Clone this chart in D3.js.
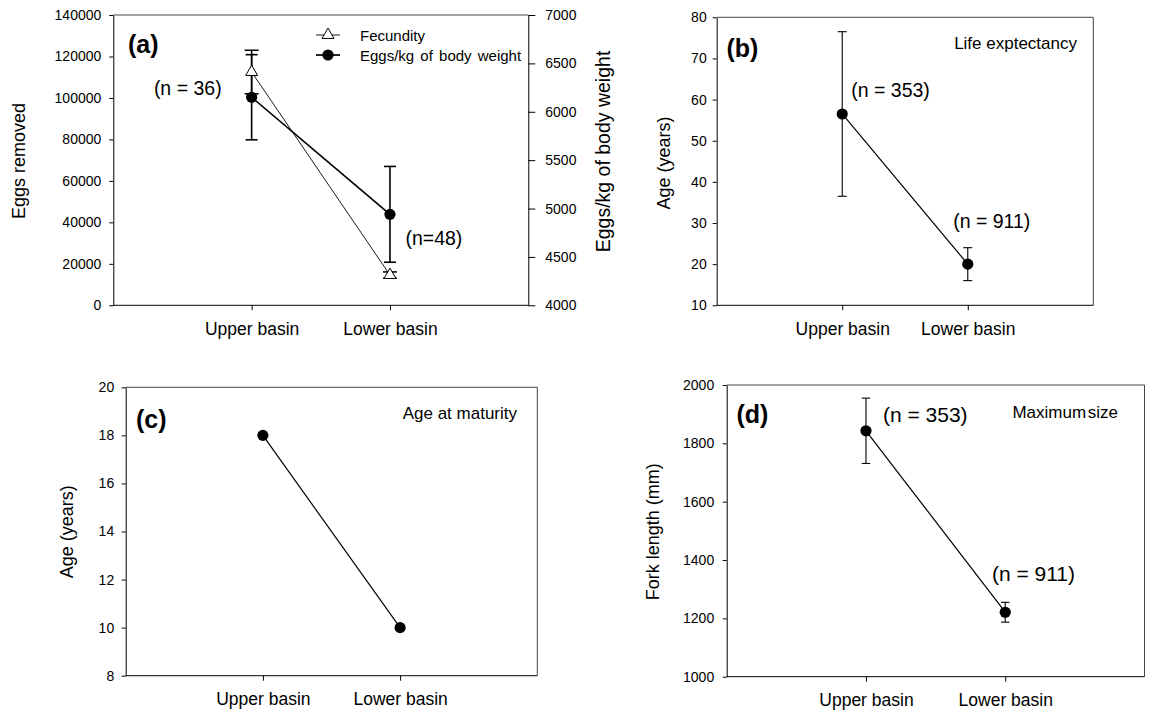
<!DOCTYPE html>
<html>
<head>
<meta charset="utf-8">
<script src="https://cdn.jsdelivr.net/npm/d3@7"></script>
<style>
  html, body { margin: 0; padding: 0; background: #fff; }
  svg { display: block; font-family: "Liberation Sans", Arial, sans-serif; }
  .tick text { font-size: 14px; fill: #000; }
  .xax .tick text { font-size: 17.5px; }
</style>
</head>
<body>
<svg id="chart" width="1154" height="718"></svg>
<script>
// ---------------- data ----------------
const categories = ["Upper basin", "Lower basin"];

const fecundity = [112500, 14600];
const fecundityErr = [10500, 1500];
const eggsPerKg = [6150, 4940];
const eggsPerKgErr = [440, 495];

const lifeExpectancy = [56.5, 20];
const lifeExpectancyErr = [20, 4];

const ageAtMaturity = [18, 10];

const maxSize = [1843, 1221];
const maxSizeErr = [112, 34];

const ticksEggsRemoved = [0, 20000, 40000, 60000, 80000, 100000, 120000, 140000];
const ticksEggsPerKg = [4000, 4500, 5000, 5500, 6000, 6500, 7000];
const ticksLife = [10, 20, 30, 40, 50, 60, 70, 80];
const ticksMaturity = [8, 10, 12, 14, 16, 18, 20];
const ticksSize = [1000, 1200, 1400, 1600, 1800, 2000];

const sampleA = ["(n = 36)", "(n=48)"];
const sampleB = ["(n = 353)", "(n = 911)"];
const sampleD = ["(n = 353)", "(n = 911)"];

// ---------------- helpers ----------------
const svg = d3.select("#chart");

function panel(box, yDomain, yTicks, yTitle, tickPad, titleX, titleY) {
  const g = svg.append("g");
  const x = d3.scalePoint().domain(categories).range([box.l, box.r]).padding(1);
  const y = d3.scaleLinear().domain(yDomain).range([box.b, box.t]);

  // frame (top & right)
  g.append("line").attr("x1", box.l).attr("x2", box.r).attr("y1", box.t).attr("y2", box.t)
    .attr("stroke", "#444").attr("stroke-width", 1);
  if (!box.noRight) {
    g.append("line").attr("x1", box.r).attr("x2", box.r).attr("y1", box.t).attr("y2", box.b)
      .attr("stroke", "#444").attr("stroke-width", 1);
  }
  // y axis
  g.append("g").attr("transform", `translate(${box.l},0)`)
    .call(d3.axisLeft(y).tickValues(yTicks).tickFormat(d3.format("d")).tickSize(4).tickSizeOuter(0).tickPadding(tickPad))
    .call(a => a.selectAll("path,line").attr("stroke", "#000"))
    .call(a => a.selectAll("text").attr("font-family", null));
  // x axis
  g.append("g").attr("class", "xax").attr("transform", `translate(0,${box.b})`)
    .call(d3.axisBottom(x).tickSize(5).tickSizeOuter(0).tickPadding(12))
    .call(a => a.select(".domain").attr("d", `M${box.l},0H${box.r}`).attr("stroke", "#000"))
    .call(a => a.selectAll("line").attr("stroke", "#000"))
    .call(a => a.selectAll("text").attr("font-family", null));
  // y title
  g.append("text")
    .attr("transform", `translate(${titleX},${titleY}) rotate(-90)`)
    .attr("text-anchor", "middle").attr("dy", "0.35em")
    .attr("font-size", 18).text(yTitle);
  return { g, x, y };
}

function errorBars(g, x, y, vals, errs, cap, sw) {
  vals.forEach((v, i) => {
    const cx = x(categories[i]);
    g.append("line").attr("x1", cx).attr("x2", cx).attr("y1", y(v - errs[i])).attr("y2", y(v + errs[i]))
      .attr("stroke", "#000").attr("stroke-width", sw);
    [v - errs[i], v + errs[i]].forEach(e => {
      g.append("line").attr("x1", cx - cap / 2).attr("x2", cx + cap / 2).attr("y1", y(e)).attr("y2", y(e))
        .attr("stroke", "#000").attr("stroke-width", sw);
    });
  });
}

function seriesLine(g, x, y, vals, sw) {
  const line = d3.line().x((d, i) => x(categories[i])).y(d => y(d));
  g.append("path").datum(vals).attr("d", line).attr("fill", "none")
    .attr("stroke", "#000").attr("stroke-width", sw);
}

function dots(g, x, y, vals) {
  g.selectAll(null).data(vals).enter().append("circle")
    .attr("cx", (d, i) => x(categories[i])).attr("cy", d => y(d)).attr("r", 5.6).attr("fill", "#000");
}

function label(g, px, py, txt, size, opts = {}) {
  return g.append("text").attr("x", px).attr("y", py).attr("font-size", size)
    .attr("text-anchor", opts.anchor || "start")
    .attr("font-weight", opts.bold ? "bold" : null)
    .text(txt);
}

// ---------------- panel (a) ----------------
{
  const box = { l: 113.3, r: 528.3, t: 15, b: 305.3, noRight: true };
  const { g, x, y } = panel(box, [0, 140000], ticksEggsRemoved, "Eggs removed", 8, 18.5, 161);
  const y2 = d3.scaleLinear().domain([4000, 7000]).range([box.b, box.t]);
  g.append("g").attr("transform", `translate(${box.r},0)`)
    .call(d3.axisRight(y2).tickValues(ticksEggsPerKg).tickFormat(d3.format("d")).tickSize(7).tickSizeOuter(0).tickPadding(10))
    .call(a => a.selectAll("path,line").attr("stroke", "#000"))
    .call(a => a.selectAll("text").attr("font-family", null));
  g.append("text")
    .attr("transform", `translate(603.5,151.5) rotate(-90)`)
    .attr("text-anchor", "middle").attr("dy", "0.35em")
    .attr("font-size", 19.5).text("Eggs/kg of body weight");

  errorBars(g, x, y, fecundity, fecundityErr, 14, 1.5);
  errorBars(g, x, y2, eggsPerKg, eggsPerKgErr, 12, 1.6);
  seriesLine(g, x, y, fecundity, 0.9);
  seriesLine(g, x, y2, eggsPerKg, 1.7);
  const tri = d3.symbol().type(d3.symbolTriangle).size(62);
  g.selectAll(null).data(fecundity).enter().append("path")
    .attr("d", tri).attr("transform", (d, i) => `translate(${x(categories[i])},${y(d)})`)
    .attr("fill", "#fff").attr("stroke", "#000").attr("stroke-width", 1);
  dots(g, x, y2, eggsPerKg);

  // legend
  const lx = 316, rows = [35, 55];
  g.append("line").attr("x1", lx).attr("x2", lx + 24).attr("y1", rows[0]).attr("y2", rows[0]).attr("stroke", "#000").attr("stroke-width", 0.9);
  g.append("path").attr("d", tri).attr("transform", `translate(${lx + 12},${rows[0]})`)
    .attr("fill", "#fff").attr("stroke", "#000");
  g.append("line").attr("x1", lx).attr("x2", lx + 24).attr("y1", rows[1]).attr("y2", rows[1]).attr("stroke", "#000").attr("stroke-width", 1.7);
  g.append("circle").attr("cx", lx + 12).attr("cy", rows[1]).attr("r", 5.6).attr("fill", "#000");
  label(g, 360, rows[0] + 5.5, "Fecundity", 15);
  label(g, 360, rows[1] + 5.5, "Eggs/kg of body weight", 15).attr("word-spacing", 2);

  label(g, 128, 53, "(a)", 25, { bold: true });
  label(g, x(categories[0]) - 30, y2(eggsPerKg[0]) - 2.5, sampleA[0], 19.5, { anchor: "end" });
  label(g, x(categories[1]) + 15.5, y2(eggsPerKg[1]) + 31, sampleA[1], 19.5);
}

// ---------------- panel (b) ----------------
{
  const box = { l: 716.7, r: 1093.3, t: 17.3, b: 305.3 };
  const { g, x, y } = panel(box, [10, 80], ticksLife, "Age (years)", 6, 664, 163);
  errorBars(g, x, y, lifeExpectancy, lifeExpectancyErr, 9, 1.1);
  seriesLine(g, x, y, lifeExpectancy, 1.2);
  dots(g, x, y, lifeExpectancy);
  label(g, 726.5, 56.5, "(b)", 25, { bold: true });
  label(g, 1077, 48.5, "Life exptectancy", 17, { anchor: "end" });
  label(g, x(categories[0]) + 9, y(lifeExpectancy[0]) - 17.3, sampleB[0], 19.5);
  label(g, x(categories[1]) - 14.6, y(lifeExpectancy[1]) - 36.4, sampleB[1], 19.5);
}

// ---------------- panel (c) ----------------
{
  const box = { l: 125.7, r: 537.3, t: 387.3, b: 675.7 };
  const { g, x, y } = panel(box, [8, 20], ticksMaturity, "Age (years)", 7.5, 67, 531.7);
  seriesLine(g, x, y, ageAtMaturity, 1.2);
  dots(g, x, y, ageAtMaturity);
  label(g, 136, 428, "(c)", 25, { bold: true });
  label(g, 517, 419, "Age at maturity", 17, { anchor: "end" });
}

// ---------------- panel (d) ----------------
{
  const box = { l: 726.7, r: 1144.5, t: 385, b: 676.7 };
  const { g, x, y } = panel(box, [1000, 2000], ticksSize, "Fork length (mm)", 8.5, 653, 531.7);
  errorBars(g, x, y, maxSize, maxSizeErr, 8.5, 1.1);
  seriesLine(g, x, y, maxSize, 1.2);
  dots(g, x, y, maxSize);
  label(g, 736.5, 423, "(d)", 25, { bold: true });
  label(g, 1118, 417.5, "Maximum size", 17, { anchor: "end" }).attr("word-spacing", -3);
  label(g, x(categories[0]) + 17, y(maxSize[0]) - 8.3, sampleD[0], 21);
  label(g, x(categories[1]) - 13.3, y(maxSize[1]) - 31.3, sampleD[1], 21);
}
</script>
</body>
</html>
